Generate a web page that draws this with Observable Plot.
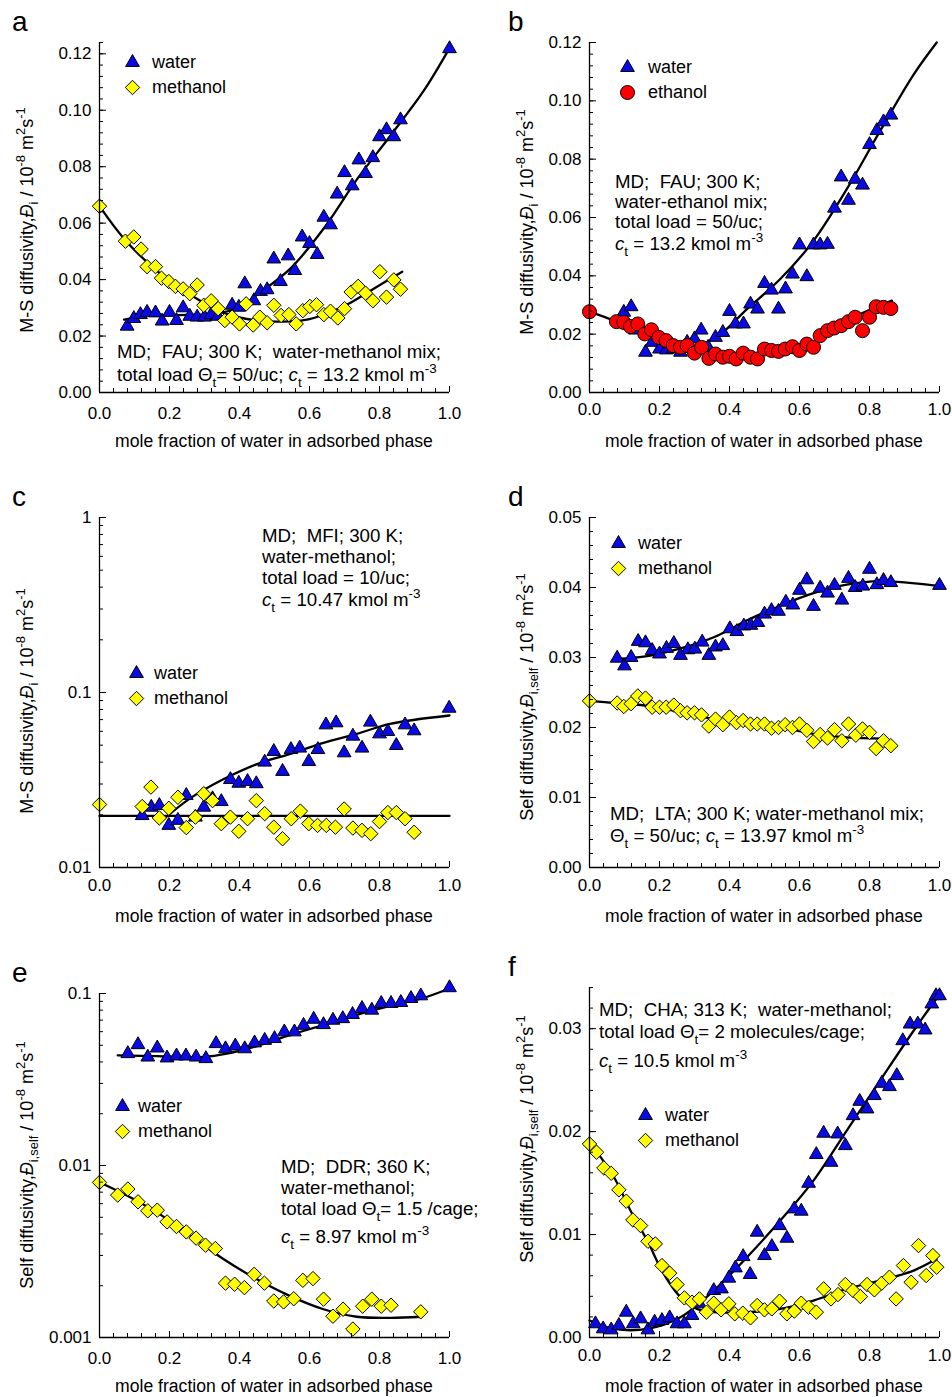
<!DOCTYPE html>
<html>
<head>
<meta charset="utf-8">
<script src="https://cdn.jsdelivr.net/npm/d3@7"></script>
<script src="https://cdn.jsdelivr.net/npm/@observablehq/plot@0.6"></script>
<style>
  body { margin: 0; background: #fff; }
  #fig { position: relative; width: 952px; height: 1397px; overflow: hidden; background: #fff;
         font-family: "Liberation Sans", Arial, Helvetica, sans-serif; }
  #fig svg { position: absolute; }
  #overlay text { white-space: pre; fill: #000; }
</style>
</head>
<body>
<div id="fig"></div>
<script>
// ---------- (a) FAU, water-methanol, M-S diffusivity ----------
const aWater = [[0.079,0.0235],[0.098,0.0262],[0.117,0.0276],[0.136,0.0284],[0.16,0.0282],[0.179,0.0253],[0.2,0.0284],[0.22,0.0255],[0.239,0.030],[0.258,0.027],[0.279,0.0267],[0.3,0.0267],[0.319,0.0276],[0.338,0.027],[0.379,0.0309],[0.398,0.0302],[0.415,0.0385],[0.441,0.0325],[0.46,0.0358],[0.479,0.0364],[0.498,0.0473],[0.517,0.0393],[0.539,0.0484],[0.558,0.0432],[0.579,0.0551],[0.6,0.0528],[0.622,0.0489],[0.641,0.0621],[0.66,0.0594],[0.679,0.0703],[0.7,0.0779],[0.722,0.0732],[0.741,0.0824],[0.76,0.0776],[0.781,0.0832],[0.8,0.0906],[0.82,0.0931],[0.841,0.0906],[0.86,0.0966],[1.0,0.1218]];
const aMethanol = [[0.0,0.066],[0.074,0.0536],[0.098,0.0551],[0.119,0.0508],[0.136,0.0446],[0.16,0.0446],[0.177,0.0405],[0.198,0.0393],[0.217,0.0376],[0.239,0.0367],[0.258,0.035],[0.279,0.0381],[0.298,0.0309],[0.319,0.0325],[0.339,0.0297],[0.358,0.0255],[0.379,0.0267],[0.4,0.0243],[0.419,0.0314],[0.439,0.0239],[0.458,0.0267],[0.479,0.0247],[0.498,0.0309],[0.519,0.0273],[0.541,0.0276],[0.562,0.0243],[0.581,0.029],[0.601,0.0305],[0.62,0.0311],[0.641,0.0276],[0.66,0.0288],[0.681,0.0264],[0.7,0.0297],[0.719,0.0356],[0.739,0.0376],[0.76,0.0352],[0.781,0.0325],[0.801,0.0428],[0.82,0.0338],[0.841,0.0399],[0.86,0.0366]];
const aWaterFit = [[0.07,0.0258],[0.15,0.0272],[0.25,0.0275],[0.33,0.0279],[0.40,0.0302],[0.45,0.0346],[0.546,0.044],[0.64,0.058],[0.736,0.0756],[0.83,0.0908],[0.927,0.107],[1.0,0.122]];
const aMethanolFit = [[0.0,0.066],[0.07,0.0545],[0.165,0.043],[0.26,0.0346],[0.355,0.0282],[0.45,0.0255],[0.545,0.0252],[0.6,0.026],[0.66,0.0285],[0.72,0.032],[0.78,0.0365],[0.865,0.0428]];

// ---------- (b) FAU, water-ethanol, M-S diffusivity ----------
const bWater = [[0.098,0.0275],[0.119,0.0294],[0.131,0.0214],[0.16,0.0138],[0.179,0.0172],[0.2,0.0149],[0.22,0.0146],[0.239,0.0149],[0.26,0.0138],[0.279,0.0172],[0.3,0.0184],[0.319,0.0214],[0.339,0.0155],[0.36,0.0189],[0.381,0.0206],[0.4,0.0278],[0.417,0.0235],[0.44,0.0235],[0.46,0.0303],[0.48,0.0286],[0.5,0.0374],[0.52,0.0351],[0.54,0.0286],[0.56,0.0355],[0.58,0.0406],[0.6,0.0506],[0.621,0.0397],[0.64,0.0506],[0.659,0.0506],[0.68,0.0508],[0.7,0.0632],[0.719,0.0739],[0.74,0.0659],[0.759,0.0731],[0.78,0.0711],[0.8,0.085],[0.821,0.0898],[0.84,0.0928],[0.861,0.0951]];
const bEthanol = [[0.0,0.0277],[0.077,0.0243],[0.098,0.024],[0.117,0.0226],[0.138,0.0235],[0.158,0.0201],[0.177,0.0215],[0.198,0.0189],[0.219,0.0178],[0.239,0.0161],[0.26,0.0155],[0.279,0.0161],[0.3,0.0135],[0.32,0.0155],[0.341,0.0117],[0.36,0.0132],[0.381,0.0121],[0.4,0.0124],[0.419,0.0115],[0.439,0.0135],[0.46,0.0121],[0.48,0.0115],[0.5,0.0149],[0.52,0.0144],[0.54,0.0141],[0.559,0.0149],[0.58,0.0157],[0.6,0.0144],[0.621,0.0166],[0.64,0.0155],[0.659,0.0195],[0.68,0.0212],[0.699,0.0221],[0.719,0.0229],[0.74,0.0243],[0.759,0.0258],[0.78,0.0212],[0.8,0.0258],[0.819,0.0294],[0.84,0.0292],[0.861,0.0288]];
const bWaterFit = [[0.1,0.026],[0.17,0.0195],[0.26,0.0157],[0.31,0.0162],[0.369,0.0195],[0.45,0.0286],[0.545,0.0389],[0.64,0.052],[0.735,0.0697],[0.83,0.0896],[0.926,0.109],[0.992,0.12]];
const bEthanolFit = [[0.0,0.0277],[0.07,0.0246],[0.165,0.0195],[0.26,0.0155],[0.355,0.0135],[0.45,0.0132],[0.545,0.0149],[0.64,0.0172],[0.735,0.0246],[0.864,0.0315]];

// ---------- (c) MFI, water-methanol, M-S diffusivity (log) ----------
const cWater = [[0.122,0.0198],[0.148,0.0221],[0.171,0.0226],[0.198,0.0174],[0.224,0.0186],[0.248,0.0258],[0.274,0.0194],[0.298,0.0221],[0.323,0.0247],[0.348,0.0238],[0.374,0.0318],[0.398,0.0303],[0.423,0.031],[0.448,0.0301],[0.472,0.040],[0.498,0.046],[0.523,0.0354],[0.547,0.0472],[0.572,0.0481],[0.598,0.0403],[0.624,0.0472],[0.647,0.0653],[0.676,0.0671],[0.699,0.0452],[0.724,0.0563],[0.75,0.0481],[0.774,0.0677],[0.8,0.058],[0.824,0.0598],[0.848,0.0498],[0.873,0.0653],[0.899,0.0604],[0.999,0.0813]];
const cMethanol = [[0.0,0.0229],[0.122,0.0223],[0.147,0.0288],[0.171,0.0192],[0.198,0.0218],[0.224,0.0252],[0.248,0.0169],[0.274,0.0194],[0.298,0.0264],[0.323,0.0241],[0.348,0.0178],[0.374,0.0194],[0.398,0.0161],[0.423,0.019],[0.448,0.0241],[0.472,0.0203],[0.498,0.017],[0.523,0.0146],[0.548,0.019],[0.574,0.021],[0.598,0.0178],[0.623,0.0174],[0.648,0.0174],[0.674,0.017],[0.699,0.0216],[0.724,0.0168],[0.75,0.0163],[0.775,0.0156],[0.8,0.0183],[0.824,0.0206],[0.848,0.0206],[0.873,0.019],[0.899,0.0159]];
const cWaterFit = [[0.179,0.0186],[0.26,0.0249],[0.355,0.032],[0.45,0.039],[0.545,0.0446],[0.64,0.0516],[0.735,0.058],[0.83,0.0662],[1.0,0.0739]];
const cMethanolFit = [[0.0,0.0197],[1.0,0.0197]];

// ---------- (d) LTA, water-methanol, self diffusivity ----------
const dWater = [[0.079,0.0299],[0.1,0.0288],[0.119,0.030],[0.139,0.0323],[0.16,0.0321],[0.179,0.031],[0.2,0.0305],[0.22,0.0313],[0.241,0.032],[0.26,0.0303],[0.281,0.0311],[0.301,0.0312],[0.322,0.0322],[0.341,0.0303],[0.36,0.0315],[0.381,0.0317],[0.401,0.0341],[0.421,0.0337],[0.441,0.0345],[0.461,0.0346],[0.481,0.035],[0.5,0.0362],[0.52,0.0367],[0.54,0.0366],[0.561,0.0379],[0.581,0.0375],[0.6,0.0396],[0.621,0.0411],[0.64,0.0373],[0.659,0.0399],[0.68,0.0392],[0.7,0.0403],[0.721,0.0382],[0.74,0.0413],[0.759,0.040],[0.781,0.0402],[0.8,0.0426],[0.821,0.0404],[0.84,0.041],[0.861,0.0407],[1.0,0.0403]];
const dMethanol = [[0.0,0.0238],[0.079,0.0235],[0.098,0.023],[0.119,0.0234],[0.138,0.0245],[0.16,0.0242],[0.179,0.0229],[0.2,0.0229],[0.219,0.0229],[0.241,0.0232],[0.26,0.0224],[0.279,0.0221],[0.3,0.0221],[0.32,0.0218],[0.341,0.0202],[0.36,0.0212],[0.381,0.0204],[0.4,0.0215],[0.42,0.0207],[0.439,0.021],[0.46,0.0205],[0.479,0.0205],[0.5,0.0205],[0.52,0.0199],[0.54,0.020],[0.559,0.0204],[0.58,0.020],[0.6,0.0205],[0.621,0.0196],[0.64,0.018],[0.659,0.019],[0.68,0.0185],[0.7,0.0197],[0.721,0.0181],[0.74,0.0205],[0.761,0.0189],[0.78,0.0198],[0.8,0.0193],[0.819,0.017],[0.84,0.0181],[0.861,0.0174]];
const dWaterFit = [[0.079,0.0298],[0.165,0.0302],[0.26,0.0313],[0.355,0.0329],[0.45,0.0353],[0.545,0.0374],[0.64,0.0392],[0.735,0.0404],[0.83,0.0409],[1.0,0.0402]];
const dMethanolFit = [[0.0,0.0238],[0.07,0.0235],[0.165,0.0231],[0.26,0.0222],[0.355,0.0212],[0.45,0.0205],[0.545,0.020],[0.64,0.0191],[0.735,0.0186],[0.84,0.0184]];

// ---------- (e) DDR, water-methanol, self diffusivity (log) ----------
const eWater = [[0.081,0.0447],[0.11,0.0504],[0.138,0.0427],[0.165,0.0482],[0.193,0.0422],[0.22,0.0433],[0.247,0.0433],[0.276,0.0427],[0.304,0.0418],[0.333,0.0511],[0.36,0.0477],[0.388,0.0495],[0.415,0.0477],[0.443,0.0516],[0.472,0.0534],[0.5,0.0547],[0.528,0.0598],[0.557,0.0598],[0.583,0.0653],[0.612,0.0708],[0.64,0.0659],[0.667,0.0699],[0.695,0.0714],[0.723,0.0755],[0.75,0.0818],[0.778,0.080],[0.805,0.0875],[0.833,0.0875],[0.861,0.0887],[0.89,0.0935],[0.918,0.0969],[1.0,0.108]];
const eMethanol = [[0.0,0.00797],[0.052,0.00673],[0.081,0.0073],[0.11,0.00615],[0.138,0.00545],[0.165,0.0055],[0.193,0.0047],[0.22,0.00442],[0.248,0.00411],[0.276,0.00378],[0.303,0.00344],[0.331,0.00329],[0.36,0.00207],[0.386,0.00204],[0.414,0.00195],[0.442,0.00233],[0.471,0.00207],[0.498,0.00163],[0.526,0.00161],[0.555,0.00168],[0.581,0.00215],[0.61,0.0022],[0.64,0.00167],[0.667,0.00133],[0.696,0.00146],[0.724,0.00112],[0.752,0.00152],[0.778,0.00167],[0.805,0.00152],[0.833,0.00154],[0.918,0.00141]];
const eWaterFit = [[0.052,0.0437],[0.165,0.0432],[0.30,0.0428],[0.36,0.0445],[0.45,0.0495],[0.545,0.0575],[0.64,0.0655],[0.735,0.0752],[0.83,0.0845],[0.92,0.0935],[1.0,0.107]];
const eMethanolFit = [[0.0,0.0080],[0.07,0.00682],[0.165,0.00532],[0.26,0.00391],[0.355,0.00285],[0.45,0.00218],[0.545,0.00174],[0.64,0.00146],[0.735,0.00132],[0.83,0.00130],[0.92,0.00132]];

// ---------- (f) CHA, water-methanol, self diffusivity ----------
const fWater = [[0.017,0.00133],[0.039,0.00084],[0.062,0.00074],[0.084,0.00117],[0.105,0.00246],[0.125,0.00133],[0.146,0.00181],[0.167,0.00074],[0.186,0.00149],[0.207,0.00165],[0.229,0.00191],[0.25,0.00133],[0.271,0.00133],[0.293,0.00214],[0.314,0.00327],[0.355,0.00456],[0.377,0.00472],[0.398,0.00576],[0.417,0.00676],[0.439,0.00786],[0.459,0.00612],[0.479,0.01023],[0.5,0.00796],[0.521,0.00883],[0.543,0.01087],[0.564,0.00964],[0.585,0.01249],[0.605,0.01227],[0.626,0.01498],[0.648,0.01777],[0.669,0.01984],[0.69,0.01702],[0.709,0.01977],[0.731,0.01864],[0.753,0.02155],[0.772,0.02294],[0.793,0.0222],[0.814,0.0235],[0.835,0.02469],[0.857,0.02437],[0.878,0.02544],[0.895,0.02883],[0.916,0.03045],[0.938,0.03045],[0.959,0.02987],[0.978,0.0324],[0.99,0.0332],[1.0,0.0332]];
const fMethanol = [[0.0,0.0188],[0.02,0.018],[0.041,0.01647],[0.062,0.01595],[0.084,0.01434],[0.105,0.01324],[0.124,0.01142],[0.146,0.01087],[0.167,0.00935],[0.188,0.00909],[0.207,0.00699],[0.229,0.00625],[0.25,0.00515],[0.271,0.00385],[0.293,0.00343],[0.314,0.00375],[0.334,0.00246],[0.355,0.00333],[0.376,0.00269],[0.398,0.00327],[0.415,0.0023],[0.438,0.00236],[0.46,0.00191],[0.479,0.00311],[0.5,0.00269],[0.521,0.00278],[0.543,0.00353],[0.564,0.0023],[0.585,0.00256],[0.605,0.00333],[0.626,0.00294],[0.648,0.00246],[0.669,0.00472],[0.69,0.00375],[0.71,0.00417],[0.731,0.00515],[0.753,0.00456],[0.774,0.00398],[0.793,0.00515],[0.814,0.00463],[0.835,0.00528],[0.857,0.00586],[0.876,0.00375],[0.897,0.00699],[0.919,0.00537],[0.94,0.00893],[0.962,0.00602],[0.981,0.00796],[0.992,0.00683]];
const fWaterFit = [[0.0,0.00165],[0.07,0.00084],[0.165,0.00084],[0.26,0.00197],[0.355,0.00456],[0.45,0.0078],[0.545,0.01136],[0.64,0.01524],[0.735,0.0201],[0.83,0.02495],[0.926,0.0298],[0.997,0.0332]];
const fMethanolFit = [[0.0,0.019],[0.07,0.01557],[0.117,0.01233],[0.165,0.00942],[0.212,0.00618],[0.26,0.00392],[0.307,0.00278],[0.355,0.00246],[0.45,0.00246],[0.545,0.00278],[0.64,0.00359],[0.735,0.00472],[0.83,0.00553],[0.926,0.0065],[0.992,0.00764]];

// ---------- axis ticks and text ----------
const xMajorTicks = [0, 0.2, 0.4, 0.6, 0.8, 1.0];
const xMinorTicks = d3.range(0, 1.0001, 0.04);
const xTitle = "mole fraction of water in adsorbed phase";
const msTitle = "M-S diffusivity,*{Đ}_{i} / 10^{-8} m^{2}s^{-1}";
const selfTitle = "Self diffusivity,*{Đ}_{i,self} / 10^{-8} m^{2}s^{-1}";

const FONT = '"Liberation Sans", Arial, Helvetica, sans-serif';
const BLUE = "#0a0ae6", YELLOW = "#ffff00", RED = "#ff0000";
const FS = 18;        // legend and axis-title size
const FS_NOTE = 18.7; // annotation block size
const FS_X = 17.6;    // x-axis title size
const fig = document.getElementById("fig");

const series = {
  water:    {symbol: "triangle", r: 5.1, fill: BLUE, label: "water"},
  methanol: {symbol: "diamond2", r: 6.5, fill: YELLOW, label: "methanol"},
  ethanol:  {symbol: "circle",   r: 7,   fill: RED,  label: "ethanol"}
};

const panels = [
  {id: "a", left: 99, top: 42, h: 350, yType: "linear", yDomain: [0, 0.124],
   yMajor: d3.range(0, 0.1201, 0.02), yMinor: d3.range(0, 0.1241, 0.004), fmt: d3.format(".2f"), xPad: 14,
   water: aWater, other: aMethanol, otherKind: "methanol", waterFit: aWaterFit, otherFit: aMethanolFit,
   legend: {dx: 33, dy: 20, tx: 152}, yTitle: msTitle, yTitleC: 220,
   notes: {x: 117, lines: [[358, "MD;  FAU; 300 K;  water-methanol mix;"], [381, "total load Θ_{t}= 50/uc; *{c}_{t} = 13.2 kmol m^{-3}"]]}},
  {id: "b", left: 589, top: 42, h: 350, yType: "linear", yDomain: [0, 0.12],
   yMajor: d3.range(0, 0.1201, 0.02), yMinor: d3.range(0, 0.1201, 0.004), fmt: d3.format(".2f"), xPad: 10,
   water: bWater, other: bEthanol, otherKind: "ethanol", waterFit: bWaterFit, otherFit: bEthanolFit,
   legend: {dx: 38, dy: 25, tx: 648}, yTitle: msTitle, yTitleC: 222,
   notes: {x: 615, lines: [[188, "MD;  FAU; 300 K;"], [208, "water-ethanol mix;"], [228, "total load = 50/uc;"], [250, "*{c}_{t} = 13.2 kmol m^{-3}"]]}},
  {id: "c", left: 99, top: 517, h: 350, yType: "log", yDomain: [0.01, 1],
   yMajor: [0.01, 0.1, 1], yMinor: [0.02,0.03,0.04,0.05,0.06,0.07,0.08,0.09,0.2,0.3,0.4,0.5,0.6,0.7,0.8,0.9], fmt: d => String(d), xPad: 11,
   water: cWater, other: cMethanol, otherKind: "methanol", waterFit: cWaterFit, otherFit: cMethanolFit,
   legend: {dx: 37, dy: 156, tx: 154}, yTitle: msTitle, yTitleC: 701,
   notes: {x: 262, lines: [[542, "MD;  MFI; 300 K;"], [563, "water-methanol;"], [584, "total load = 10/uc;"], [606, "*{c}_{t} = 10.47 kmol m^{-3}"]]}},
  {id: "d", left: 589, top: 517, h: 350, yType: "linear", yDomain: [0, 0.05],
   yMajor: d3.range(0, 0.0501, 0.01), yMinor: d3.range(0, 0.0501, 0.002), fmt: d3.format(".2f"), xPad: 11,
   water: dWater, other: dMethanol, otherKind: "methanol", waterFit: dWaterFit, otherFit: dMethanolFit,
   legend: {dx: 29, dy: 26, tx: 638}, yTitle: selfTitle, yTitleC: 697,
   notes: {x: 610, lines: [[820, "MD;  LTA; 300 K; water-methanol mix;"], [842, "Θ_{t} = 50/uc; *{c}_{t} = 13.97 kmol m^{-3}"]]}},
  {id: "e", left: 99, top: 993, h: 344, yType: "log", yDomain: [0.001, 0.1],
   yMajor: [0.001, 0.01, 0.1], yMinor: [0.002,0.003,0.004,0.005,0.006,0.007,0.008,0.009,0.02,0.03,0.04,0.05,0.06,0.07,0.08,0.09], fmt: d => String(d), xPad: 14,
   water: eWater, other: eMethanol, otherKind: "methanol", waterFit: eWaterFit, otherFit: eMethanolFit,
   legend: {dx: 23, dy: 113, tx: 138}, yTitle: selfTitle, yTitleC: 1165,
   notes: {x: 281, lines: [[1173, "MD;  DDR; 360 K;"], [1194, "water-methanol;"], [1215, "total load Θ_{t}= 1.5 /cage;"], [1243, "*{c}_{t} = 8.97 kmol m^{-3}"]]}},
  {id: "f", left: 589, top: 987, h: 350, yType: "linear", yDomain: [0, 0.034],
   yMajor: d3.range(0, 0.0301, 0.01), yMinor: d3.range(0, 0.0341, 0.002), fmt: d3.format(".2f"), xPad: 11,
   water: fWater, other: fMethanol, otherKind: "methanol", waterFit: fWaterFit, otherFit: fMethanolFit,
   legend: {dx: 56, dy: 128, tx: 665}, yTitle: selfTitle, yTitleC: 1139,
   notes: {x: 599, lines: [[1016, "MD;  CHA; 313 K;  water-methanol;"], [1038, "total load Θ_{t}= 2 molecules/cage;"], [1067, "*{c}_{t} = 10.5 kmol m^{-3}"]]}}
];

const W = 350;
const mL = 64, mR = 14, mT = 14, mB = 44;

function fitLine(pts) {
  return Plot.line(pts, {x: d => d[0], y: d => d[1], curve: "catmull-rom", stroke: "#000", strokeWidth: 2.3});
}
function pointDots(pts, s) {
  return Plot.dot(pts, {x: d => d[0], y: d => d[1], symbol: s.symbol, r: s.r, fill: s.fill, stroke: "#000", strokeWidth: 1});
}
function legendDot(s, dx, dy) {
  return Plot.dot([0], {frameAnchor: "top-left", dx, dy, symbol: s.symbol, r: s.r, fill: s.fill, stroke: "#000", strokeWidth: 1});
}

for (const p of panels) {
  const H = p.h;
  const other = series[p.otherKind];
  const svg = Plot.plot({
    width: mL + W + mR, height: mT + H + mB,
    marginLeft: mL, marginRight: mR, marginTop: mT, marginBottom: mB,
    style: {fontFamily: FONT, fontSize: "17px", background: "transparent", color: "#000", overflow: "visible"},
    x: {domain: [0, 1]},
    y: {type: p.yType, domain: p.yDomain},
    marks: [
      fitLine(p.waterFit),
      fitLine(p.otherFit),
      pointDots(p.water, series.water),
      pointDots(p.other, other),
      Plot.tickY(p.yMinor, {y: d => d, insetRight: W - 4, stroke: "#000", strokeWidth: 1}),
      Plot.tickY(p.yMajor, {y: d => d, insetRight: W - 7, stroke: "#000", strokeWidth: 1}),
      Plot.tickX(xMinorTicks, {x: d => d, insetTop: H - 4, stroke: "#000", strokeWidth: 1}),
      Plot.tickX(xMajorTicks, {x: d => d, insetTop: H - 6, stroke: "#000", strokeWidth: 1}),
      Plot.ruleX([0], {stroke: "#000", strokeWidth: 1.3}),
      Plot.ruleY([p.yDomain[0]], {stroke: "#000", strokeWidth: 1.3}),
      Plot.axisY({ticks: p.yMajor, tickSize: 0, tickPadding: 8, tickFormat: p.fmt, label: null, fontSize: 17}),
      Plot.axisX({ticks: xMajorTicks, tickSize: 0, tickPadding: p.xPad, tickFormat: d3.format(".1f"), label: null, fontSize: 17}),
      legendDot(series.water, p.legend.dx, p.legend.dy),
      legendDot(other, p.legend.dx, p.legend.dy + 25)
    ]
  });
  svg.style.left = (p.left - mL) + "px";
  svg.style.top = (p.top - mT) + "px";
  fig.appendChild(svg);
}

// ---------- text layer: panel letters, titles, legends, notes ----------
function rich(str, fs) {
  const re = /([_^*])\{([^}]*)\}/g;
  const parts = [];
  let last = 0, m;
  while ((m = re.exec(str))) {
    if (m.index > last) parts.push([str.slice(last, m.index), "n"]);
    parts.push([m[2], m[1]]);
    last = re.lastIndex;
  }
  if (last < str.length) parts.push([str.slice(last), "n"]);
  let cur = 0, out = "";
  for (const [txt, kind] of parts) {
    let shift = 0, size = fs, italic = false;
    if (kind === "_") { shift = 0.3 * fs; size = 0.72 * fs; }
    else if (kind === "^") { shift = -0.42 * fs; size = 0.72 * fs; }
    else if (kind === "*") italic = true;
    const dy = (shift - cur).toFixed(2);
    cur = shift;
    out += `<tspan dy="${dy}" font-size="${size.toFixed(2)}"${italic ? ' font-style="italic"' : ""}>${txt}</tspan>`;
  }
  return out;
}

let t = "";
for (const p of panels) {
  const cx = p.left + W / 2;
  const isLeft = p.left < 400;
  // panel letter
  t += `<text x="${isLeft ? 12 : 508}" y="${p.top - 11}" font-size="28">${p.id}</text>`;
  // x-axis title
  t += `<text x="${cx}" y="${p.top + p.h + 55}" font-size="${FS_X}" text-anchor="middle">${xTitle}</text>`;
  // y-axis title
  const yx = isLeft ? 33 : 533;
  t += `<text transform="translate(${yx},${p.yTitleC}) rotate(-90)" font-size="${FS}" text-anchor="middle">${rich(p.yTitle, FS)}</text>`;
  // legend labels
  const ly = p.top + p.legend.dy;
  t += `<text x="${p.legend.tx}" y="${ly + 6}" font-size="${FS}">${series.water.label}</text>`;
  t += `<text x="${p.legend.tx}" y="${ly + 31}" font-size="${FS}">${series[p.otherKind].label}</text>`;
  // annotation block
  for (const [y, line] of p.notes.lines) {
    t += `<text x="${p.notes.x}" y="${y}" font-size="${FS_NOTE}">${rich(line, FS_NOTE)}</text>`;
  }
}
const overlay = `<svg id="overlay" xmlns="http://www.w3.org/2000/svg" width="952" height="1397" style="left:0;top:0;font-family:${FONT.replace(/"/g, "'")}">${t}</svg>`;
fig.insertAdjacentHTML("beforeend", overlay);
</script>
</body>
</html>
